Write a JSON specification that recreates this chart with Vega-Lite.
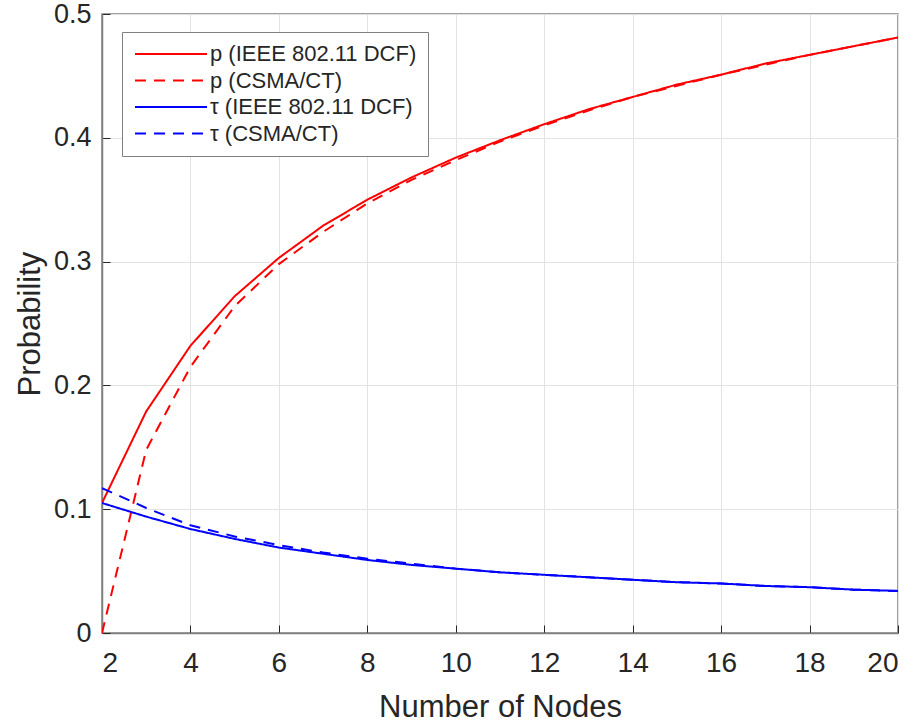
{
  "$schema": "https://vega.github.io/schema/vega-lite/v6.json",
  "autosize": "none",
  "width": 796,
  "height": 619,
  "padding": {"left": 102, "top": 14, "right": 21, "bottom": 92},
  "background": "white",
  "config": {
    "font": "Liberation Sans",
    "view": {"stroke": "#808080", "strokeWidth": 1.5},
    "axis": {
      "labelFont": "Liberation Sans",
      "titleFont": "Liberation Sans",
      "labelColor": "#262626",
      "titleColor": "#262626",
      "titleFontWeight": "normal",
      "domainColor": "#808080",
      "domainWidth": 1.5,
      "tickColor": "#262626",
      "tickSize": -8,
      "gridColor": "#e3e3e3",
      "gridWidth": 1
    }
  },
  "data": {
    "values": [
      {"n": 2, "s": "p (IEEE 802.11 DCF)", "v": 0.105},
      {"n": 3, "s": "p (IEEE 802.11 DCF)", "v": 0.179},
      {"n": 4, "s": "p (IEEE 802.11 DCF)", "v": 0.232},
      {"n": 5, "s": "p (IEEE 802.11 DCF)", "v": 0.272},
      {"n": 6, "s": "p (IEEE 802.11 DCF)", "v": 0.303},
      {"n": 7, "s": "p (IEEE 802.11 DCF)", "v": 0.329},
      {"n": 8, "s": "p (IEEE 802.11 DCF)", "v": 0.350},
      {"n": 9, "s": "p (IEEE 802.11 DCF)", "v": 0.368},
      {"n": 10, "s": "p (IEEE 802.11 DCF)", "v": 0.384},
      {"n": 11, "s": "p (IEEE 802.11 DCF)", "v": 0.398},
      {"n": 12, "s": "p (IEEE 802.11 DCF)", "v": 0.411},
      {"n": 13, "s": "p (IEEE 802.11 DCF)", "v": 0.423},
      {"n": 14, "s": "p (IEEE 802.11 DCF)", "v": 0.433},
      {"n": 15, "s": "p (IEEE 802.11 DCF)", "v": 0.443},
      {"n": 16, "s": "p (IEEE 802.11 DCF)", "v": 0.451},
      {"n": 17, "s": "p (IEEE 802.11 DCF)", "v": 0.460},
      {"n": 18, "s": "p (IEEE 802.11 DCF)", "v": 0.467},
      {"n": 19, "s": "p (IEEE 802.11 DCF)", "v": 0.474},
      {"n": 20, "s": "p (IEEE 802.11 DCF)", "v": 0.481},
      {"n": 2, "s": "p (CSMA/CT)", "v": 0.0},
      {"n": 3, "s": "p (CSMA/CT)", "v": 0.148},
      {"n": 4, "s": "p (CSMA/CT)", "v": 0.215},
      {"n": 5, "s": "p (CSMA/CT)", "v": 0.264},
      {"n": 6, "s": "p (CSMA/CT)", "v": 0.298},
      {"n": 7, "s": "p (CSMA/CT)", "v": 0.324},
      {"n": 8, "s": "p (CSMA/CT)", "v": 0.347},
      {"n": 9, "s": "p (CSMA/CT)", "v": 0.366},
      {"n": 10, "s": "p (CSMA/CT)", "v": 0.382},
      {"n": 11, "s": "p (CSMA/CT)", "v": 0.397},
      {"n": 12, "s": "p (CSMA/CT)", "v": 0.410},
      {"n": 13, "s": "p (CSMA/CT)", "v": 0.422},
      {"n": 14, "s": "p (CSMA/CT)", "v": 0.433},
      {"n": 15, "s": "p (CSMA/CT)", "v": 0.442},
      {"n": 16, "s": "p (CSMA/CT)", "v": 0.451},
      {"n": 17, "s": "p (CSMA/CT)", "v": 0.459},
      {"n": 18, "s": "p (CSMA/CT)", "v": 0.467},
      {"n": 19, "s": "p (CSMA/CT)", "v": 0.474},
      {"n": 20, "s": "p (CSMA/CT)", "v": 0.481},
      {"n": 2, "s": "τ (IEEE 802.11 DCF)", "v": 0.105},
      {"n": 3, "s": "τ (IEEE 802.11 DCF)", "v": 0.094},
      {"n": 4, "s": "τ (IEEE 802.11 DCF)", "v": 0.084},
      {"n": 5, "s": "τ (IEEE 802.11 DCF)", "v": 0.076},
      {"n": 6, "s": "τ (IEEE 802.11 DCF)", "v": 0.069},
      {"n": 7, "s": "τ (IEEE 802.11 DCF)", "v": 0.064},
      {"n": 8, "s": "τ (IEEE 802.11 DCF)", "v": 0.059},
      {"n": 9, "s": "τ (IEEE 802.11 DCF)", "v": 0.055},
      {"n": 10, "s": "τ (IEEE 802.11 DCF)", "v": 0.052},
      {"n": 11, "s": "τ (IEEE 802.11 DCF)", "v": 0.049},
      {"n": 12, "s": "τ (IEEE 802.11 DCF)", "v": 0.047},
      {"n": 13, "s": "τ (IEEE 802.11 DCF)", "v": 0.045},
      {"n": 14, "s": "τ (IEEE 802.11 DCF)", "v": 0.043},
      {"n": 15, "s": "τ (IEEE 802.11 DCF)", "v": 0.041},
      {"n": 16, "s": "τ (IEEE 802.11 DCF)", "v": 0.040},
      {"n": 17, "s": "τ (IEEE 802.11 DCF)", "v": 0.038},
      {"n": 18, "s": "τ (IEEE 802.11 DCF)", "v": 0.037},
      {"n": 19, "s": "τ (IEEE 802.11 DCF)", "v": 0.035},
      {"n": 20, "s": "τ (IEEE 802.11 DCF)", "v": 0.034},
      {"n": 2, "s": "τ (CSMA/CT)", "v": 0.117},
      {"n": 3, "s": "τ (CSMA/CT)", "v": 0.101},
      {"n": 4, "s": "τ (CSMA/CT)", "v": 0.087},
      {"n": 5, "s": "τ (CSMA/CT)", "v": 0.078},
      {"n": 6, "s": "τ (CSMA/CT)", "v": 0.071},
      {"n": 7, "s": "τ (CSMA/CT)", "v": 0.065},
      {"n": 8, "s": "τ (CSMA/CT)", "v": 0.060},
      {"n": 9, "s": "τ (CSMA/CT)", "v": 0.056},
      {"n": 10, "s": "τ (CSMA/CT)", "v": 0.052},
      {"n": 11, "s": "τ (CSMA/CT)", "v": 0.049},
      {"n": 12, "s": "τ (CSMA/CT)", "v": 0.047},
      {"n": 13, "s": "τ (CSMA/CT)", "v": 0.045},
      {"n": 14, "s": "τ (CSMA/CT)", "v": 0.043},
      {"n": 15, "s": "τ (CSMA/CT)", "v": 0.041},
      {"n": 16, "s": "τ (CSMA/CT)", "v": 0.040},
      {"n": 17, "s": "τ (CSMA/CT)", "v": 0.038},
      {"n": 18, "s": "τ (CSMA/CT)", "v": 0.037},
      {"n": 19, "s": "τ (CSMA/CT)", "v": 0.035},
      {"n": 20, "s": "τ (CSMA/CT)", "v": 0.034}
    ]
  },
  "mark": {"type": "line", "strokeWidth": 2, "clip": true},
  "encoding": {
    "x": {
      "field": "n", "type": "quantitative",
      "scale": {"domain": [2, 20], "nice": false, "zero": false},
      "axis": {"values": [2, 4, 6, 8, 10, 12, 14, 16, 18, 20], "title": "Number of Nodes", "labelFontSize": 28, "titleFontSize": 31, "labelPadding": 24, "titlePadding": 15}
    },
    "y": {
      "field": "v", "type": "quantitative",
      "scale": {"domain": [0, 0.5], "nice": false},
      "axis": {"values": [0, 0.1, 0.2, 0.3, 0.4, 0.5], "format": "~g", "title": "Probability", "labelFontSize": 27, "titleFontSize": 31, "labelPadding": 19, "titlePadding": 7}
    },
    "color": {
      "field": "s", "type": "nominal",
      "scale": {
        "domain": ["p (IEEE 802.11 DCF)", "p (CSMA/CT)", "τ (IEEE 802.11 DCF)", "τ (CSMA/CT)"],
        "range": ["#ff0000", "#ff0000", "#0000ff", "#0000ff"]
      },
      "legend": {
        "title": null, "orient": "none", "legendX": 20, "legendY": 18,
        "symbolType": "M-1,0H7", "symbolSize": 324, "symbolStrokeWidth": 2,
        "labelFontSize": 22, "labelColor": "#262626", "labelLimit": 400,
        "fillColor": "white", "strokeColor": "#808080", "padding": 11,
        "rowPadding": 4.5, "labelOffset": 55
      }
    },
    "strokeDash": {
      "field": "s", "type": "nominal",
      "scale": {
        "domain": ["p (IEEE 802.11 DCF)", "p (CSMA/CT)", "τ (IEEE 802.11 DCF)", "τ (CSMA/CT)"],
        "range": [[1, 0], [11, 8], [1, 0], [11, 8]]
      },
      "legend": {
        "title": null, "orient": "none", "legendX": 20, "legendY": 18,
        "symbolType": "M-1,0H7", "symbolSize": 324, "symbolStrokeWidth": 2,
        "labelFontSize": 22, "labelColor": "#262626", "labelLimit": 400,
        "fillColor": "white", "strokeColor": "#808080", "padding": 11,
        "rowPadding": 4.5, "labelOffset": 55
      }
    }
  }
}
